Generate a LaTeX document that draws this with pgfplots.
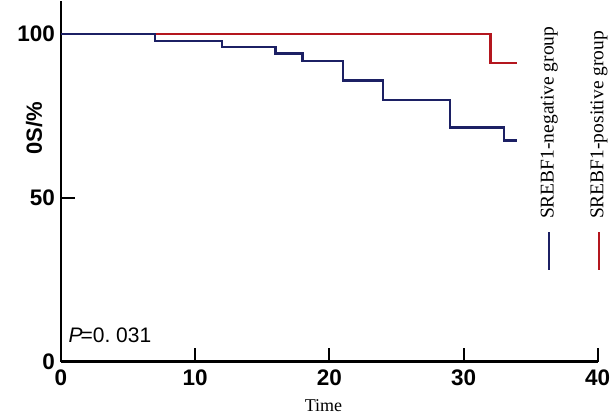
\documentclass[border=0pt]{standalone}
\usepackage{fontspec}
\setmainfont{Liberation Sans}
\newfontfamily\seriffont{Liberation Serif}
\usepackage{pgfplots}
\pgfplotsset{compat=1.18}

\definecolor{kmnavy}{RGB}{28,32,100}
\definecolor{kmred}{RGB}{180,22,30}

\begin{document}
\begin{tikzpicture}
\begin{axis}[
  at={(0,0)}, anchor=south west,
  scale only axis,
  width=536.7pt, height=360.5pt,
  xmin=0, xmax=40, ymin=0, ymax=110,
  axis lines=left,
  axis line style={-, line width=2.4pt, black},
  xtick={0,10,20,30,40},
  ytick={0,50,100},
  tick align=inside,
  major tick length=14pt,
  tick style={line width=2pt, black},
  /pgf/number format/assume math mode=true,
  ticklabel style={font=\fontsize{22.5}{24}\selectfont\bfseries, inner sep=0pt},
  xticklabel style={yshift=-8pt},
  yticklabel style={xshift=-6pt},
  xlabel={Time},
  xlabel style={font=\seriffont\fontsize{18}{20}\selectfont,
    at={(axis description cs:0.489,0)}, anchor=north, yshift=-34pt},
  ylabel={0S/\%},
  ylabel style={font=\fontsize{22}{24}\selectfont\bfseries,
    at={(axis description cs:-0.0503,0.648)}, anchor=center},
  clip=false,
]
% SREBF1-positive group
\addplot[kmred, line width=2.5pt, const plot] coordinates {
  (0,100) (32,91.1) (34,91.1)
};
% SREBF1-negative group
\addplot[kmnavy, line width=2.5pt, const plot] coordinates {
  (0,100) (7,97.9) (12,96.0) (16,94.1) (18,91.8) (21,85.8)
  (24,79.8) (29,71.4) (33,67.5) (34,67.5)
};

% p-value
\node[font=\fontsize{21}{23}\selectfont, anchor=center]
  at (axis cs:3.65,8.15) {\textit{P}\kern-2pt=0.\ 031};

% vertical legend
\draw[kmnavy, line width=2.2pt] (axis cs:36.4,28.0) -- (axis cs:36.4,39.6);
\draw[kmred, line width=2.2pt] (axis cs:40.1,28.0) -- (axis cs:40.1,39.6);
\node[font=\seriffont\fontsize{19.5}{21}\selectfont, rotate=90, anchor=west, inner sep=0pt]
  at (axis cs:36.4,43.5) {SREBF1-negative group};
\node[font=\seriffont\fontsize{19.5}{21}\selectfont, rotate=90, anchor=west, inner sep=0pt]
  at (axis cs:40.1,43.5) {SREBF1-positive group};
\end{axis}
\path[use as bounding box] (-61pt,-55.3pt) rectangle (553pt,361.7pt);
\end{tikzpicture}
\end{document}
